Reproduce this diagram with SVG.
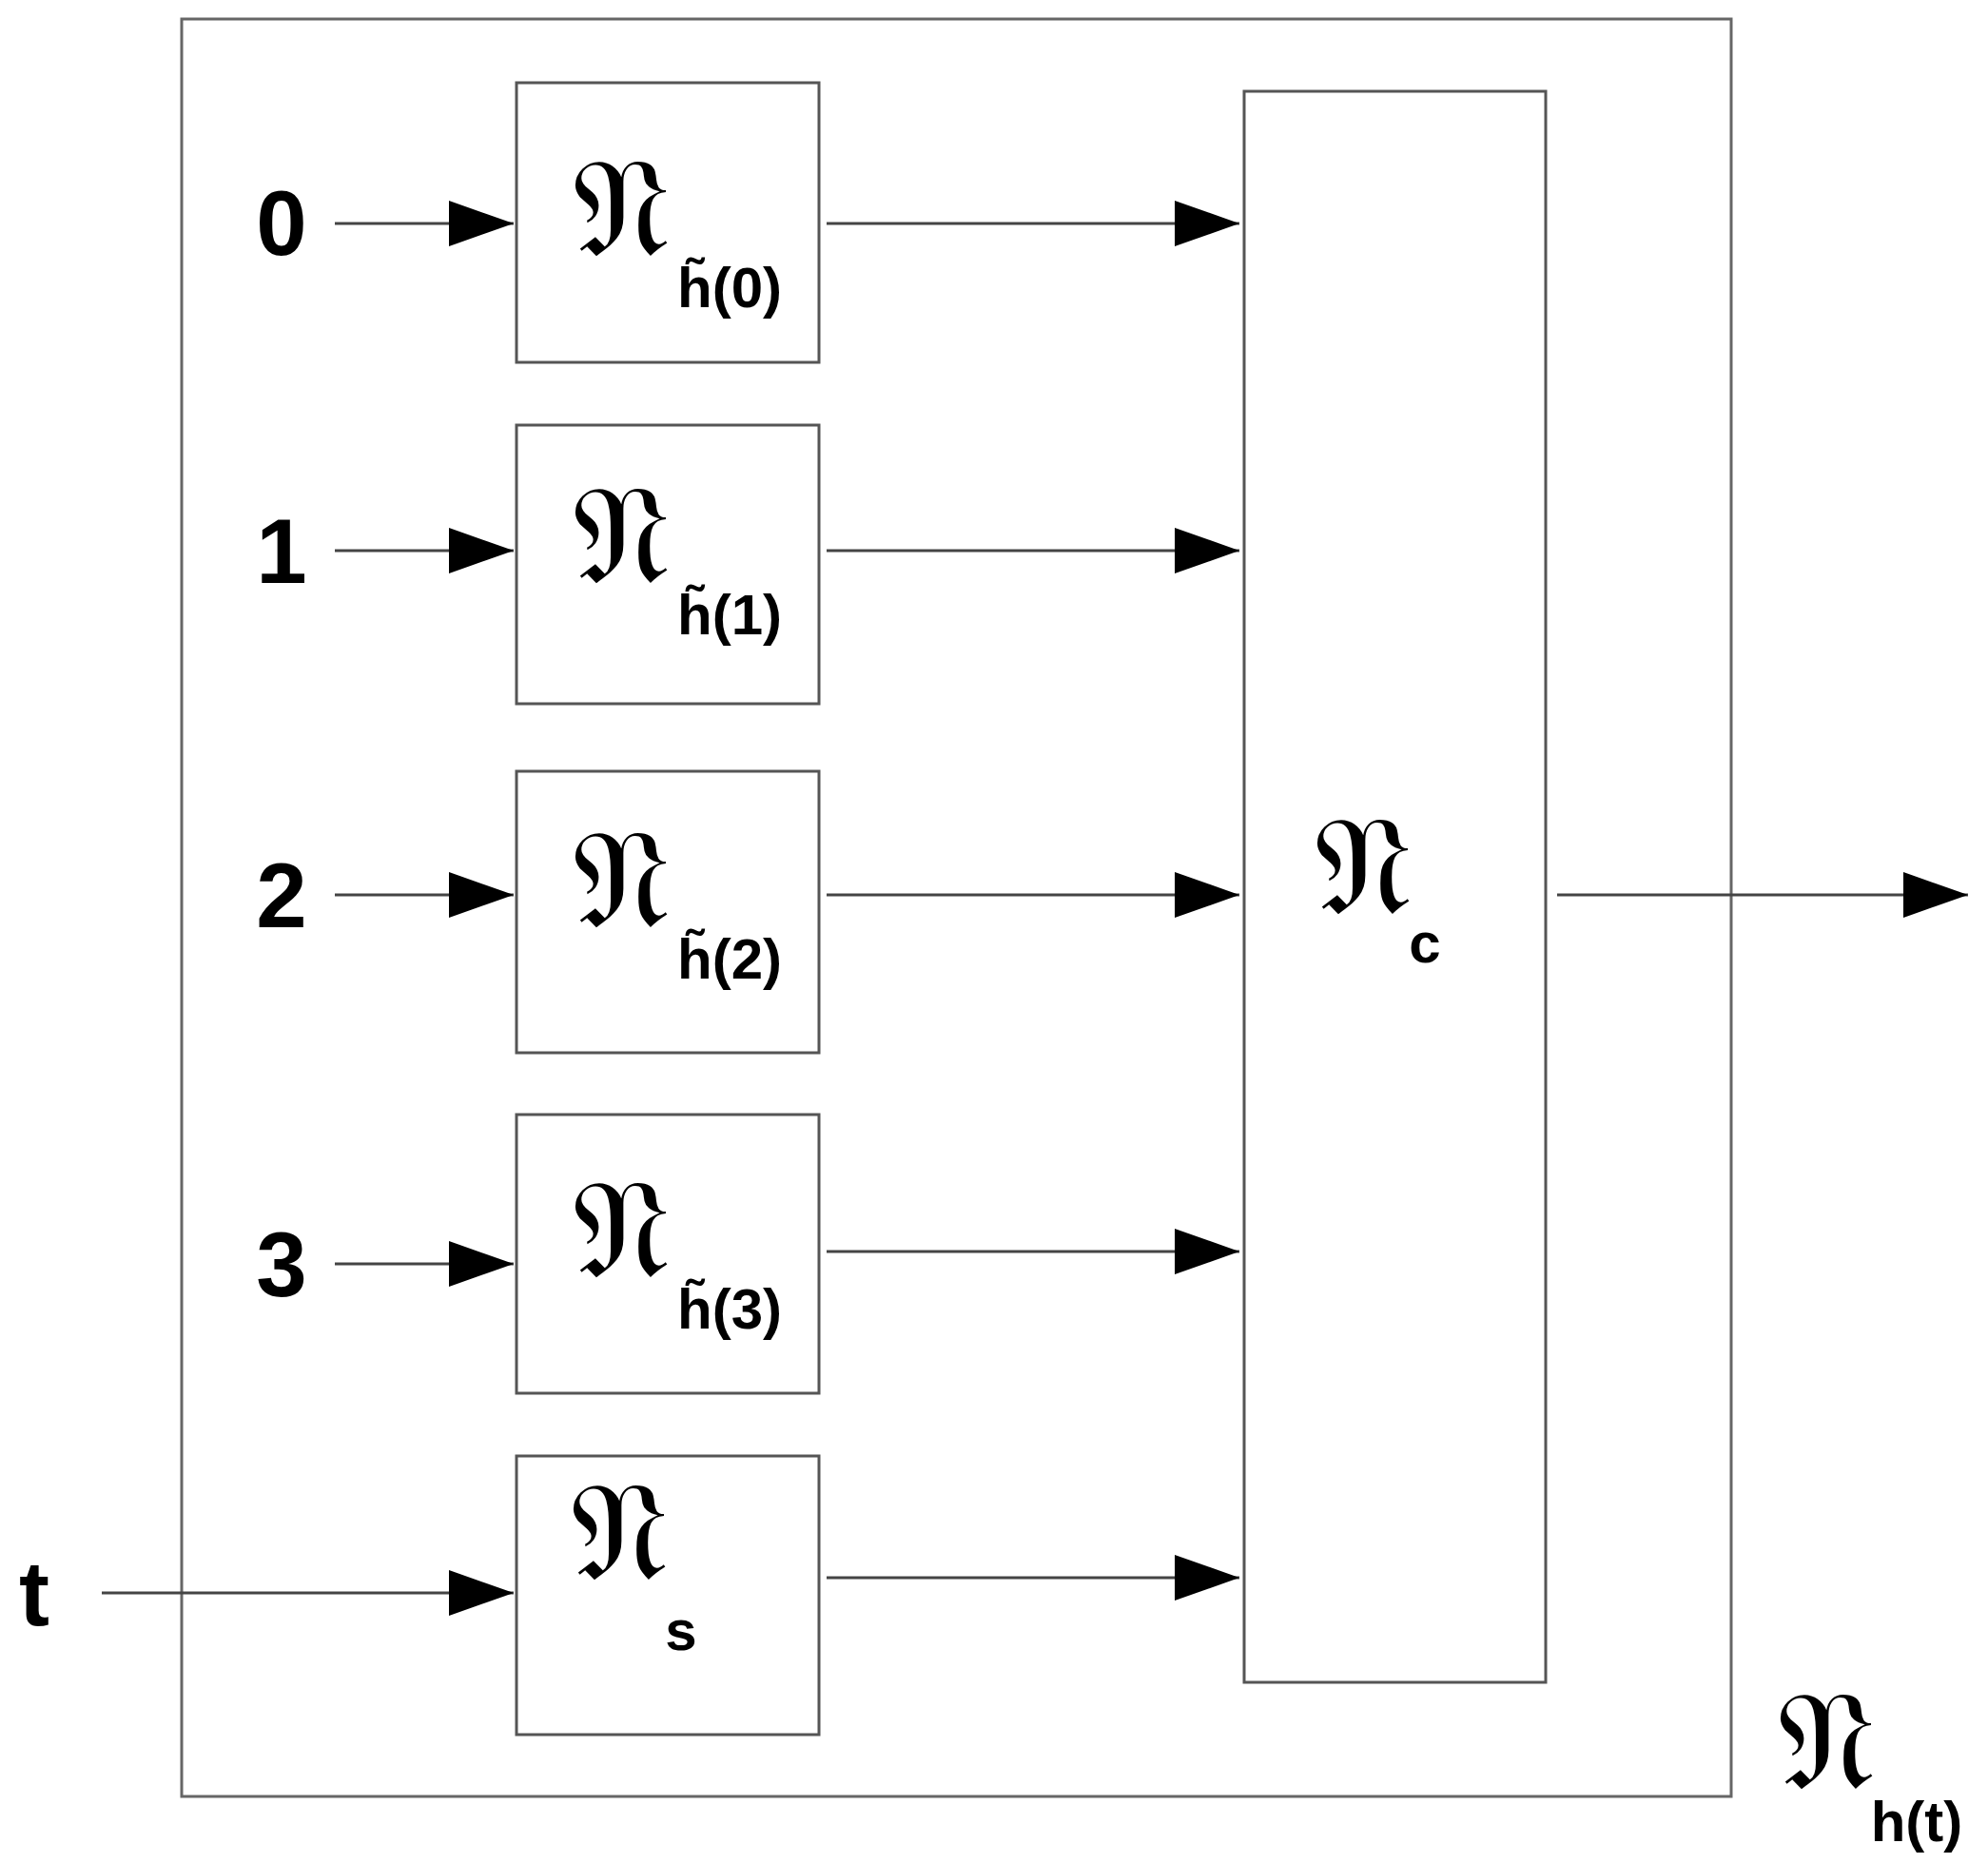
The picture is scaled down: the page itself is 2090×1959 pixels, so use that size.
<svg xmlns="http://www.w3.org/2000/svg" width="2090" height="1959" viewBox="0 0 2090 1959">
<style>
.b{fill:#fff;stroke:#555;stroke-width:3}
.l{stroke:#444;stroke-width:3;fill:none}
.n{font-family:"Liberation Sans",Arial,sans-serif;font-weight:bold;font-size:96px;fill:#000;text-anchor:middle}
.f{font-family:"DejaVu Serif","DejaVu Sans","Noto Sans",serif;font-size:145px;fill:#000;text-anchor:middle}
.s{font-family:"Liberation Sans",Arial,sans-serif;font-weight:bold;font-size:60px;fill:#000;text-anchor:middle}
</style>
<defs><marker id="A" viewBox="0 0 68 48" refX="68" refY="24" markerWidth="68" markerHeight="48" orient="auto" markerUnits="userSpaceOnUse"><path d="M0,0L68,24L0,48z" fill="#000"/></marker></defs>
<rect x="191" y="20" width="1629" height="1869" fill="none" stroke="#666" stroke-width="3"/>
<g id="h0"><rect class="b" x="543" y="87" width="318" height="294"/><text class="f" x="653" y="268">𝔑</text><text class="s" x="767" y="323">h̃(0)</text></g>
<g id="h1"><rect class="b" x="543" y="447" width="318" height="293"/><text class="f" x="653" y="612">𝔑</text><text class="s" x="767" y="667">h̃(1)</text></g>
<g id="h2"><rect class="b" x="543" y="811" width="318" height="296"/><text class="f" x="653" y="974">𝔑</text><text class="s" x="767" y="1029">h̃(2)</text></g>
<g id="h3"><rect class="b" x="543" y="1172" width="318" height="293"/><text class="f" x="653" y="1342">𝔑</text><text class="s" x="767" y="1397">h̃(3)</text></g>
<g id="s"><rect class="b" x="543" y="1531" width="318" height="293"/><text class="f" x="651" y="1660">𝔑</text><text class="s" x="716" y="1735">s</text></g>
<g id="c"><rect class="b" x="1308" y="96" width="317" height="1673"/><text class="f" x="1433" y="960">𝔑</text><text class="s" x="1498" y="1012">c</text></g>
<g id="ht"><text class="f" x="1920" y="1880">𝔑</text><text class="s" x="2015" y="1936">h(t)</text></g>
<g id="labels"><text class="n" x="296" y="268">0</text><text class="n" x="296" y="613">1</text><text class="n" x="296" y="975">2</text><text class="n" x="296" y="1363">3</text><text class="n" x="36" y="1709">t</text></g>
<g id="connectors" class="l">
<line x1="352" y1="235" x2="540" y2="235" marker-end="url(#A)"/>
<line x1="352" y1="579" x2="540" y2="579" marker-end="url(#A)"/>
<line x1="352" y1="941" x2="540" y2="941" marker-end="url(#A)"/>
<line x1="352" y1="1329" x2="540" y2="1329" marker-end="url(#A)"/>
<line x1="107" y1="1675" x2="540" y2="1675" marker-end="url(#A)"/>
<line x1="869" y1="235" x2="1303" y2="235" marker-end="url(#A)"/>
<line x1="869" y1="579" x2="1303" y2="579" marker-end="url(#A)"/>
<line x1="869" y1="941" x2="1303" y2="941" marker-end="url(#A)"/>
<line x1="869" y1="1316" x2="1303" y2="1316" marker-end="url(#A)"/>
<line x1="869" y1="1659" x2="1303" y2="1659" marker-end="url(#A)"/>
<line x1="1637" y1="941" x2="2069" y2="941" marker-end="url(#A)"/>
</g>
</svg>
